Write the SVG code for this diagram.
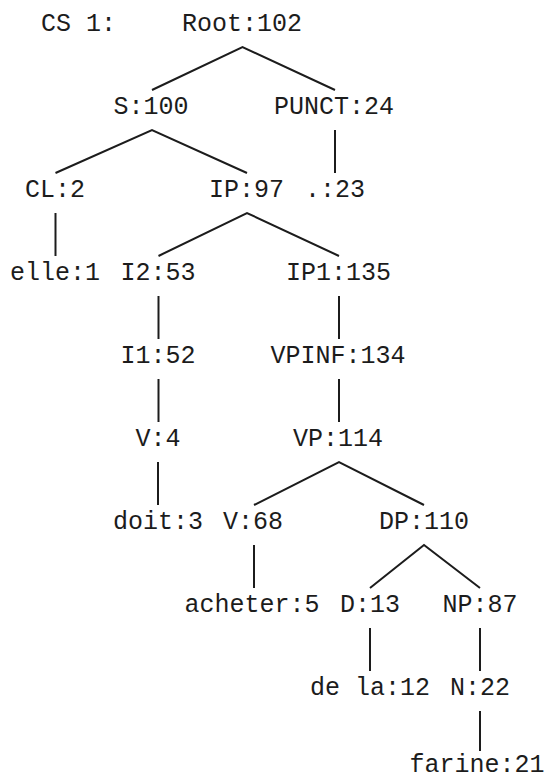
<svg xmlns="http://www.w3.org/2000/svg" width="546" height="780" viewBox="0 0 546 780">
  <style>
    .lbl { font-family: "Liberation Mono", "Courier New", monospace; font-size: 25px; fill: #1c1c1c; text-anchor: middle; }
    .edge { stroke: #1c1c1c; stroke-width: 2; fill: none; stroke-linecap: butt; }
  </style>
  <rect width="546" height="780" fill="#ffffff"/>

  <!-- tree branches -->
  <g id="edges">
    <path class="edge" d="M152,90 L242.5,47 L335,90"/>
    <path class="edge" d="M55.5,173 L152,130 L247,173"/>
    <line class="edge" x1="335" y1="130" x2="335" y2="173"/>
    <line class="edge" x1="55.5" y1="213" x2="55.5" y2="256"/>
    <path class="edge" d="M158.5,256 L247,213 L339,256"/>
    <line class="edge" x1="158.5" y1="296" x2="158.5" y2="339"/>
    <line class="edge" x1="339" y1="296" x2="339" y2="339"/>
    <line class="edge" x1="158.5" y1="379" x2="158.5" y2="422"/>
    <line class="edge" x1="339" y1="379" x2="339" y2="422"/>
    <line class="edge" x1="158" y1="462" x2="158" y2="505"/>
    <path class="edge" d="M254,505 L339,462 L424,505"/>
    <line class="edge" x1="254" y1="545" x2="254" y2="588"/>
    <path class="edge" d="M370,588 L424,545 L480,588"/>
    <line class="edge" x1="370" y1="628" x2="370" y2="671"/>
    <line class="edge" x1="480" y1="628" x2="480" y2="671"/>
    <line class="edge" x1="480" y1="711" x2="480" y2="751"/>
  </g>

  <g id="cs-label"><text class="lbl" x="41" y="31" style="text-anchor:start">CS 1:</text></g>
  <g id="root"><text class="lbl" x="242" y="31">Root:102</text></g>
  <g id="s"><text class="lbl" x="151" y="114">S:100</text></g>
  <g id="punct"><text class="lbl" x="334" y="114">PUNCT:24</text></g>
  <g id="cl"><text class="lbl" x="55" y="197">CL:2</text></g>
  <g id="ip"><text class="lbl" x="246.5" y="197">IP:97</text></g>
  <g id="dot"><text class="lbl" x="335" y="197">.:23</text></g>
  <g id="elle"><text class="lbl" x="55" y="280">elle:1</text></g>
  <g id="i2"><text class="lbl" x="158" y="280">I2:53</text></g>
  <g id="ip1"><text class="lbl" x="338.5" y="280">IP1:135</text></g>
  <g id="i1"><text class="lbl" x="158" y="363">I1:52</text></g>
  <g id="vpinf"><text class="lbl" x="338" y="363">VPINF:134</text></g>
  <g id="v4"><text class="lbl" x="158" y="446">V:4</text></g>
  <g id="vp"><text class="lbl" x="338" y="446">VP:114</text></g>
  <g id="doit"><text class="lbl" x="158" y="529">doit:3</text></g>
  <g id="v68"><text class="lbl" x="253" y="529">V:68</text></g>
  <g id="dp"><text class="lbl" x="424" y="529">DP:110</text></g>
  <g id="acheter"><text class="lbl" x="252" y="612">acheter:5</text></g>
  <g id="d13"><text class="lbl" x="370" y="612">D:13</text></g>
  <g id="np"><text class="lbl" x="480" y="612">NP:87</text></g>
  <g id="dela"><text class="lbl" x="370" y="695">de la:12</text></g>
  <g id="n22"><text class="lbl" x="480" y="695">N:22</text></g>
  <g id="farine"><text class="lbl" x="477" y="772">farine:21</text></g>
</svg>
